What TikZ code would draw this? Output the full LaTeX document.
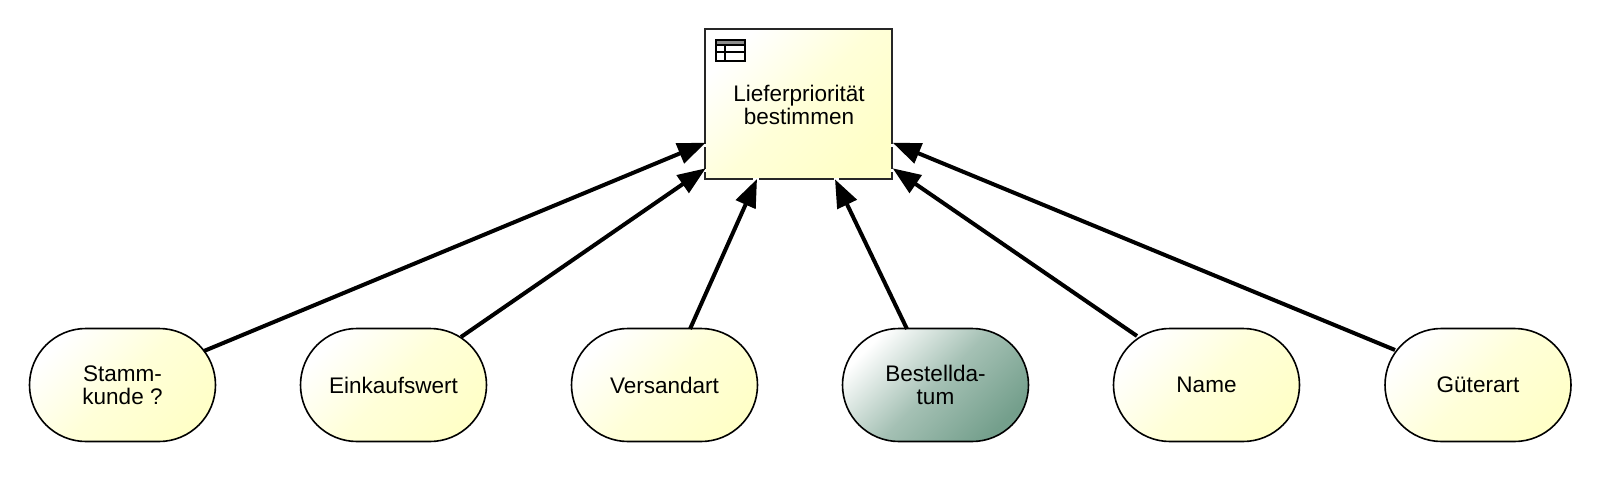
\documentclass[tikz,border=0pt]{standalone}
\usepackage{fontspec}
\setmainfont{Liberation Sans}
\usetikzlibrary{arrows.meta,shapes.misc}
\definecolor{ivory}{HTML}{FFFFC8}
\definecolor{sage}{HTML}{749F8C}
\tikzset{
  txt/.style={font=\fontsize{16.9pt}{17.4pt}\selectfont,align=center},
  pill/.style={rounded rectangle,rounded rectangle arc length=180,draw=black,line width=1.6*0.75pt,
    minimum width=186*0.75pt,minimum height=113*0.75pt,inner sep=0pt,txt},
  pale/.style={left color=white,right color=ivory,middle color=white!30!ivory,shading=axis,shading angle=45},
  green/.style={left color=white,right color=sage,middle color=white!35!sage,shading=axis,shading angle=45},
  link/.style={line width=4*0.75pt,black,-{Triangle[length=28*0.75pt,width=21*0.75pt]}},
  box/.style={rectangle,draw=black!85,line width=1.6*0.75pt,minimum width=187*0.75pt,minimum height=150*0.75pt,
    inner sep=0pt,left color=white,right color=ivory,middle color=white!30!ivory,shading=axis,shading angle=45},
  icon/.style={draw=black,line width=1.2*0.75pt},
  halo/.style={draw=white,line width=2.4*0.75pt},
}
\begin{document}
\begin{tikzpicture}[x=0.75pt,y=-0.75pt]
\useasboundingbox (0,0) rectangle (1600,485);
\node[box] (task) at (798.5,104) {};
\node[txt] (tasklabel) at (799,105) {Lieferpriorität\\bestimmen};
\node[pill,pale] (a) at (122.5,385) {Stamm-\\kunde ?};
\node[pill,pale] (b) at (393.5,385) {Einkaufswert};
\node[pill,pale] (c) at (664.5,385) {Versandart};
\node[pill,green] (d) at (935.5,385) {Bestellda-\\tum};
\node[pill,pale] (e) at (1206.5,385) {Name};
\node[pill,pale] (f) at (1478,385) {Güterart};
\coordinate (a1) at (204,351); \coordinate (t1) at (705.7,142.7);
\coordinate (b1) at (461,337); \coordinate (t2) at (705.7,168.3);
\coordinate (c1) at (690,329); \coordinate (t3) at (757,179);
\coordinate (d1) at (907,329); \coordinate (t4) at (835,179.3);
\coordinate (e1) at (1137,336); \coordinate (t5) at (892.7,168.3);
\coordinate (f1) at (1395,350); \coordinate (t6) at (892.7,142.7);
% small white gaps where the arrow tips meet the box outline
\draw[halo] (705,144) -- (705,147) (705,169) -- (705,172)
            (892.5,144) -- (892.5,147) (892.5,169) -- (892.5,172)
            (753,179) -- (758.5,179) (833.5,179) -- (839,179);
\foreach \s/\t in {a1/t1,b1/t2,c1/t3,d1/t4,e1/t5,f1/t6}
  \draw[link] (\s) -- (\t);
% table icon
\fill[black!45] (716,40) rectangle (745,45);
\draw[icon] (716,40) rectangle (745,61);
\draw[icon] (716,45) -- (745,45) (716,52) -- (745,52) (725,45) -- (725,61);
\end{tikzpicture}
\end{document}
